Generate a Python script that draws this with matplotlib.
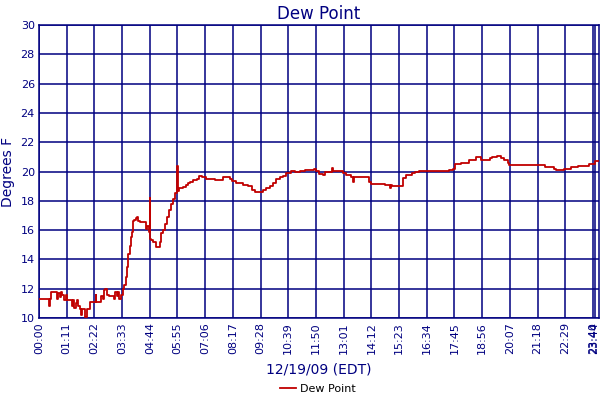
import matplotlib
matplotlib.use('Agg')
import matplotlib.pyplot as plt
import numpy as np

NAVY = '#000080'
RED = '#C00000'

# minutes after midnight and dew point (F)
minutes = [0, 25, 27, 31, 46, 49, 53, 56, 60, 64, 70, 73, 85, 88, 91, 94, 97, 100,
           104, 107, 111, 119, 122, 130, 145, 147, 160, 163, 166, 168, 174, 180,
           193, 196, 199, 203, 206, 209, 215, 218, 222, 226, 229, 233, 235, 238,
           240, 244, 248, 252, 255, 259, 274, 278, 281, 284, 285, 288, 292, 300,
           309, 314, 319, 324, 329, 334, 339, 344, 349, 355, 356, 360, 368, 376,
           381, 386, 394, 404, 409, 419, 427, 450, 471, 489, 496, 504, 522, 535,
           545, 553, 573, 582, 592, 600, 608, 618, 626, 634, 646, 655, 668, 683,
           704, 709, 719, 727, 732, 750, 752, 754, 778, 786, 801, 804, 807, 842,
           847, 852, 888, 901, 903, 906, 932, 934, 942, 955, 963, 975, 1039, 1052,
           1060, 1067, 1083, 1103, 1119, 1134, 1155, 1162, 1173, 1185, 1193, 1201,
           1206, 1298, 1321, 1326, 1347, 1365, 1382, 1411, 1424, 1435]
dewpoint = [11.3, 10.8, 11.3, 11.8, 11.3, 11.7, 11.4, 11.8, 11.6, 11.2, 11.6, 11.2,
            10.8, 11.2, 10.7, 11.0, 11.2, 10.8, 10.6, 10.2, 10.6, 10.1, 10.6, 11.1,
            11.6, 11.1, 11.5, 11.3, 11.9, 12.0, 11.6, 11.5, 11.3, 11.8, 11.5, 11.8,
            11.3, 11.6, 12.0, 12.25, 12.8, 13.5, 14.4, 14.9, 15.55, 15.9, 16.6, 16.7,
            16.8, 16.9, 16.65, 16.55, 16.1, 16.3, 15.9, 18.2, 15.4, 15.3, 15.2, 14.87,
            15.2, 15.8, 16.0, 16.45, 16.9, 17.4, 17.8, 18.15, 18.5, 20.4, 18.7, 18.85,
            18.96, 19.1, 19.2, 19.3, 19.4, 19.5, 19.7, 19.6, 19.5, 19.45, 19.6, 19.5,
            19.35, 19.2, 19.1, 19.0, 18.75, 18.6, 18.75, 18.85, 19.0, 19.2, 19.5,
            19.65, 19.7, 19.9, 20.05, 20.0, 20.05, 20.1, 20.2, 20.05, 19.85, 19.75,
            20.0, 20.05, 20.25, 20.05, 19.9, 19.75, 19.6, 19.3, 19.6, 19.6, 19.3,
            19.15, 19.1, 18.9, 19.1, 19.0, 19.0, 19.55, 19.75, 19.9, 20.0, 20.05,
            20.05, 20.1, 20.2, 20.5, 20.6, 20.8, 21.0, 20.8, 20.9, 21.0, 21.05, 20.95,
            20.8, 20.55, 20.45, 20.3, 20.2, 20.1, 20.2, 20.3, 20.4, 20.5, 20.7, 20.7]

tick_minutes = list(range(0, 1421, 71)) + [1424]
tick_labels = ['%02d:%02d' % (m // 60, m % 60) for m in tick_minutes]

fig = plt.figure(figsize=(6, 4), dpi=100)
ax = fig.add_axes([0.065, 0.205, 0.933, 0.7325])

ax.plot(minutes, dewpoint, color=RED, lw=1.3, drawstyle='steps-post',
        label='Dew Point', zorder=3)

ax.set_xlim(0, 1435)
ax.set_ylim(10, 30)
ax.set_yticks(np.arange(10, 31, 2))
ax.set_xticks(tick_minutes)
ax.set_xticklabels(tick_labels, rotation=90)
ax.tick_params(colors=NAVY, labelcolor=NAVY, labelsize=8, length=0, pad=3)
ax.grid(True, color=NAVY, lw=1.1)
for s in ax.spines.values():
    s.set_color(NAVY)
    s.set_linewidth(1.1)

ax.set_title('Dew Point', color=NAVY, fontsize=12, pad=4)
ax.set_ylabel('Degrees F', color=NAVY, fontsize=10, labelpad=4)
ax.set_xlabel('12/19/09 (EDT)', color=NAVY, fontsize=10, labelpad=6)

fig.legend(loc='lower center', bbox_to_anchor=(0.53, -0.01), frameon=False,
           fontsize=8, handlelength=1.4, handletextpad=0.4)

fig.savefig('out.png', dpi=100)
